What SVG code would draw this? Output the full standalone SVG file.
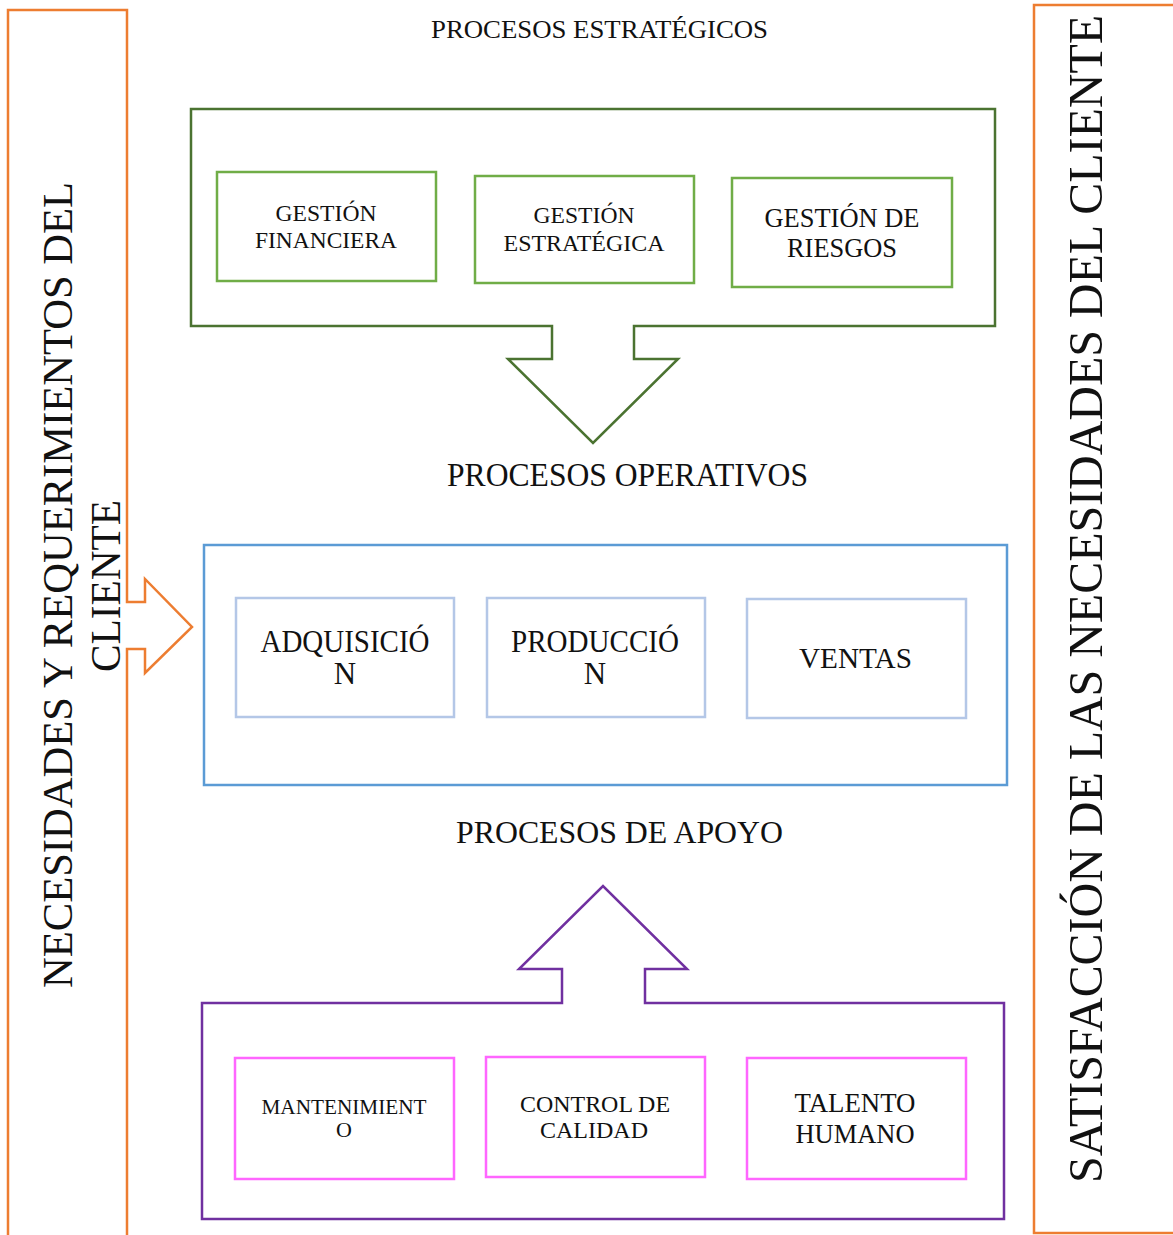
<svg xmlns="http://www.w3.org/2000/svg" width="1173" height="1235" viewBox="0 0 1173 1235">
  <style>
    text { font-family: "Liberation Serif", "Times New Roman", serif; fill: #111; text-anchor: middle; }
    .frame { fill: none; stroke-width: 2.5; stroke-linejoin: miter; }
    .orange { stroke: #ED7D31; }
    .green-dark { stroke: #4B7331; }
    .green { stroke: #70AD47; }
    .blue-dark { stroke: #5B9BD5; }
    .blue { stroke: #B4C7E7; }
    .purple { stroke: #7030A0; }
    .pink { stroke: #FF66FF; }
  </style>
  <rect width="1173" height="1235" fill="#ffffff"/>

  <!-- side bands -->
  <g id="entrada-cliente">
    <path class="frame orange" d="M8,10 H127 V602 H145 V579 L192,627 L145,673 V649 H127 V1240 H8 Z"/>
    <text transform="translate(72,585) rotate(-90)" font-size="43" textLength="806" lengthAdjust="spacingAndGlyphs">NECESIDADES Y REQUERIMIENTOS DEL</text>
    <text transform="translate(120,586) rotate(-90)" font-size="43" textLength="172" lengthAdjust="spacingAndGlyphs">CLIENTE</text>
  </g>
  <g id="salida-cliente">
    <rect class="frame orange" x="1034" y="5" width="200" height="1228"/>
    <text transform="translate(1102,599) rotate(-90)" font-size="49" textLength="1168" lengthAdjust="spacingAndGlyphs">SATISFACCIÓN DE LAS NECESIDADES DEL CLIENTE</text>
  </g>

  <!-- strategic processes -->
  <g id="procesos-estrategicos">
    <text x="599.5" y="38" font-size="26" textLength="337" lengthAdjust="spacingAndGlyphs">PROCESOS ESTRATÉGICOS</text>
    <path class="frame green-dark" d="M191,109 H995 V326 H634 V359 H678 L593,443 L508,359 H552 V326 H191 Z"/>
  </g>
  <g id="gestion-financiera">
    <rect class="frame green" x="217" y="172" width="219" height="109"/>
    <text x="326" y="221" font-size="24" textLength="101" lengthAdjust="spacingAndGlyphs">GESTIÓN</text>
    <text x="326" y="248" font-size="24" textLength="142" lengthAdjust="spacingAndGlyphs">FINANCIERA</text>
  </g>
  <g id="gestion-estrategica">
    <rect class="frame green" x="475" y="176" width="219" height="107"/>
    <text x="584" y="223" font-size="24" textLength="101" lengthAdjust="spacingAndGlyphs">GESTIÓN</text>
    <text x="584" y="251" font-size="24" textLength="161" lengthAdjust="spacingAndGlyphs">ESTRATÉGICA</text>
  </g>
  <g id="gestion-riesgos">
    <rect class="frame green" x="732" y="178" width="220" height="109"/>
    <text x="842" y="227" font-size="27.5" textLength="155" lengthAdjust="spacingAndGlyphs">GESTIÓN DE</text>
    <text x="842" y="257" font-size="27.5" textLength="110" lengthAdjust="spacingAndGlyphs">RIESGOS</text>
  </g>

  <!-- operative processes -->
  <g id="procesos-operativos">
    <text x="627.5" y="486" font-size="33" textLength="361" lengthAdjust="spacingAndGlyphs">PROCESOS OPERATIVOS</text>
    <rect class="frame blue-dark" x="204" y="545" width="803" height="240"/>
  </g>
  <g id="adquisicion">
    <rect class="frame blue" x="236" y="598" width="218" height="119"/>
    <text x="345" y="652" font-size="31" textLength="169" lengthAdjust="spacingAndGlyphs">ADQUISICIÓ</text>
    <text x="345" y="684" font-size="31">N</text>
  </g>
  <g id="produccion">
    <rect class="frame blue" x="487" y="598" width="218" height="119"/>
    <text x="595" y="652" font-size="31" textLength="168" lengthAdjust="spacingAndGlyphs">PRODUCCIÓ</text>
    <text x="595" y="684" font-size="31">N</text>
  </g>
  <g id="ventas">
    <rect class="frame blue" x="747" y="599" width="219" height="119"/>
    <text x="855.5" y="668" font-size="30" textLength="113" lengthAdjust="spacingAndGlyphs">VENTAS</text>
  </g>

  <!-- support processes -->
  <g id="procesos-apoyo">
    <text x="619.5" y="843" font-size="32" textLength="327" lengthAdjust="spacingAndGlyphs">PROCESOS DE APOYO</text>
    <path class="frame purple" d="M202,1003 H562 V969 H519 L603,886 L687,969 H645 V1003 H1004 V1219 H202 Z"/>
  </g>
  <g id="mantenimiento">
    <rect class="frame pink" x="235" y="1058" width="219" height="121"/>
    <text x="344" y="1114" font-size="22" textLength="165" lengthAdjust="spacingAndGlyphs">MANTENIMIENT</text>
    <text x="344" y="1137" font-size="22">O</text>
  </g>
  <g id="control-calidad">
    <rect class="frame pink" x="486" y="1057" width="219" height="120"/>
    <text x="595" y="1112" font-size="24" textLength="150" lengthAdjust="spacingAndGlyphs">CONTROL DE</text>
    <text x="594" y="1138" font-size="24">CALIDAD</text>
  </g>
  <g id="talento-humano">
    <rect class="frame pink" x="747" y="1058" width="219" height="121"/>
    <text x="855" y="1112" font-size="27" textLength="121" lengthAdjust="spacingAndGlyphs">TALENTO</text>
    <text x="855" y="1143" font-size="27" textLength="119" lengthAdjust="spacingAndGlyphs">HUMANO</text>
  </g>

  <!-- connectors: the block arrows are drawn as part of the frames above -->
  <g id="connectors"></g>
</svg>
